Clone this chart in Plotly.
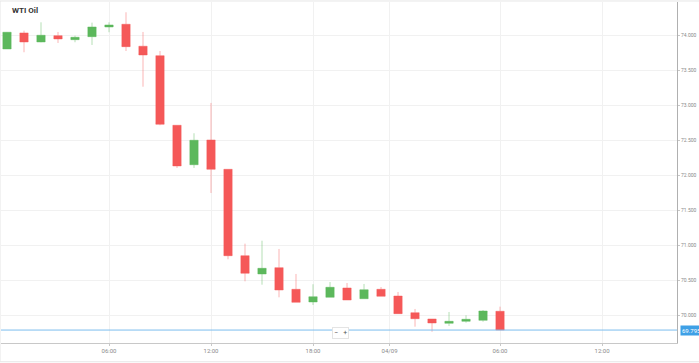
import plotly.graph_objects as go

# ---- data ----
idx = list(range(30))
opens  = [73.810, 74.039, 73.910, 74.000, 73.943, 73.986, 74.124, 74.163, 73.849, 73.714,
          72.720, 72.157, 72.510, 72.091, 70.857, 70.596, 70.686, 70.377, 70.196, 70.263,
          70.396, 70.243, 70.377, 70.281, 70.043, 69.953, 69.891, 69.920, 69.934, 70.063]
highs  = [74.053, 74.071, 74.191, 74.053, 74.000, 74.186, 74.191, 74.334, 74.053, 73.781,
          72.720, 72.606, 73.039, 72.091, 71.029, 71.071, 70.953, 70.596, 70.449, 70.481,
          70.467, 70.453, 70.410, 70.339, 70.096, 69.953, 70.053, 70.006, 70.081, 70.129]
lows   = [73.810, 73.763, 73.906, 73.896, 73.906, 73.867, 74.049, 73.781, 73.271, 72.720,
          72.110, 72.110, 71.753, 70.806, 70.491, 70.443, 70.263, 70.191, 70.153, 70.263,
          70.224, 70.243, 70.277, 70.029, 69.843, 69.771, 69.853, 69.900, 69.914, 69.795]
closes = [74.049, 73.910, 74.006, 73.953, 73.977, 74.124, 74.153, 73.843, 73.724, 72.734,
          72.139, 72.506, 72.091, 70.857, 70.606, 70.677, 70.367, 70.191, 70.271, 70.406,
          70.224, 70.371, 70.277, 70.029, 69.957, 69.896, 69.920, 69.949, 70.067, 69.795]

x_tick_pos = [6, 12, 18, 22.5, 29, 35]
x_tick_text = ["06:00", "12:00", "18:00", "04/09", "06:00", "12:00"]
y_tick_vals = [74.0, 73.5, 73.0, 72.5, 72.0, 71.5, 71.0, 70.5, 70.0]
y_tick_text = ["74.000", "73.500", "73.000", "72.500", "72.000", "71.500", "71.000", "70.500", "70.000"]
title = "WTI Oil"

GREEN = "rgb(92,184,92)"
RED = "rgb(245,88,88)"

fig = go.Figure()
fig.add_trace(go.Candlestick(
    x=idx, open=opens, high=highs, low=lows, close=closes,
    increasing=dict(fillcolor=GREEN, line=dict(color="rgba(92,184,92,0.45)", width=1)),
    decreasing=dict(fillcolor=RED, line=dict(color="rgba(245,88,88,0.45)", width=1)),
    whiskerwidth=0, showlegend=False, hoverinfo="skip",
))

fig.update_layout(
    width=699, height=363,
    margin=dict(l=1, r=22, t=2, b=20),
    paper_bgcolor="white", plot_bgcolor="white",
    showlegend=False,
    xaxis=dict(
        range=[-0.353, 39.41], rangeslider=dict(visible=False),
        tickmode="array", tickvals=x_tick_pos, ticktext=x_tick_text,
        showgrid=True, gridcolor="#f1f1f1", gridwidth=1,
        showline=True, linecolor="#c8c8c8", linewidth=1,
        ticks="outside", ticklen=2, tickcolor="#c8c8c8",
        tickfont=dict(family="Roboto", size=6, color="#8a8a8a"),
        zeroline=False, fixedrange=True,
    ),
    yaxis=dict(
        range=[69.610, 74.481], side="right",
        tickmode="array", tickvals=y_tick_vals, ticktext=y_tick_text,
        showgrid=True, gridcolor="#f1f1f1", gridwidth=1,
        showline=True, linecolor="#b0b0b0", linewidth=1,
        ticks="outside", ticklen=2, tickcolor="#c8c8c8",
        tickfont=dict(family="Roboto", size=5, color="#8a8a8a"),
        zeroline=False, fixedrange=True,
    ),
)

# outer frame
fig.add_shape(type="rect", xref="paper", yref="paper", x0=-0.0015, x1=1.04, y0=-0.055, y1=1.003,
              line=dict(color="#e6e6e6", width=1), layer="below")

# last price line + label
last = closes[-1]
fig.add_shape(type="line", xref="paper", yref="y", x0=0, x1=1, y0=last, y1=last,
              line=dict(color="#7cbdee", width=1), layer="above")

fig.add_annotation(xref="paper", yref="y", x=1.004, y=last, xanchor="left", yanchor="middle",
                   text=f"{last:.3f}", showarrow=False, bgcolor="#3ea0e6", borderpad=1,
                   font=dict(family="Roboto", size=6, color="white"))

fig.add_annotation(xref="paper", yref="paper", x=0.013, y=0.975, xanchor="left", yanchor="middle",
                   text=f"<b>{title}</b>", showarrow=False,
                   font=dict(family="Roboto", size=8, color="#333"))

fig.add_annotation(xref="paper", yref="paper", x=0.502, y=0.028, xanchor="center", yanchor="middle",
                   text="−   +", showarrow=False, bgcolor="white", bordercolor="#e4e4e4",
                   borderwidth=1, borderpad=1,
                   font=dict(family="Roboto", size=7, color="#555"))

fig.write_html("out.html", config={"displayModeBar": False},
               post_script="document.body.style.margin='0';document.body.style.overflow='hidden';")
